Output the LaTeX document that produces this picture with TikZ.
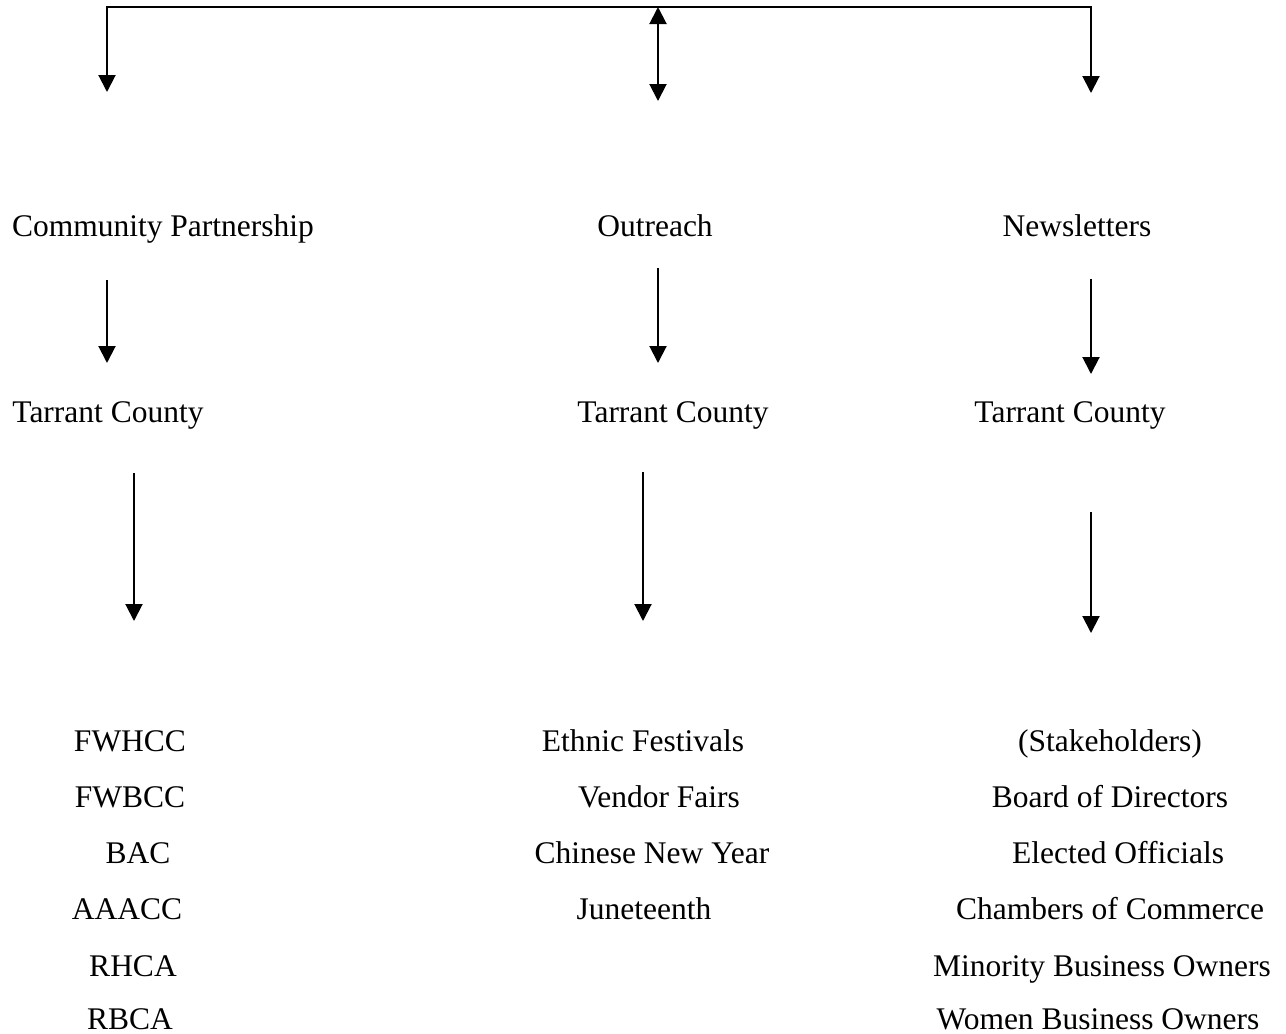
\documentclass[tikz,border=0pt]{standalone}
\usepackage{fontspec}
\setmainfont{Liberation Serif}
\usetikzlibrary{arrows.meta}

\begin{document}
\begin{tikzpicture}[x=1pt,y=-1pt,line width=2pt]
        \tikzstyle{every node}=[inner sep=0pt, anchor=base, font=\fontsize{31.5}{38}\selectfont]
        \tikzstyle{arr}=[-{Triangle[length=17pt,width=17pt]}]
        \useasboundingbox (0,0) rectangle (1286,1034);
        % top bar
        \coordinate (tl) at (107,7); \coordinate (tm) at (658,7); \coordinate (tr) at (1091,7);
        \coordinate (al) at (107,92); \coordinate (am) at (658,101); \coordinate (ar) at (1091,93);
        \draw[arr] (tm) -| (al);
        \draw[arr] (tm) -| (ar);
        \draw[{Triangle[length=17pt,width=17pt]}-{Triangle[length=17pt,width=17pt]}] (tm) -- (am);
        % headings
        \node (cp) at (163,236) {Community Partnership};
        \node (out) at (655,236) {Outreach};
        \node (news) at (1077,236) {Newsletters};
        \coordinate (cp1) at (107,280); \coordinate (cp2) at (107,363);
        \coordinate (out1) at (658,268); \coordinate (out2) at (658,363);
        \coordinate (news1) at (1091,279); \coordinate (news2) at (1091,374);
        \draw[arr] (cp1) -- (cp2);
        \draw[arr] (out1) -- (out2);
        \draw[arr] (news1) -- (news2);
        \node (tc1) at (108,422) {Tarrant County};
        \node (tc2) at (673,422) {Tarrant County};
        \node (tc3) at (1070,422) {Tarrant County};
        \coordinate (tc1a) at (134,473); \coordinate (tc1b) at (134,621);
        \coordinate (tc2a) at (643,472); \coordinate (tc2b) at (643,621);
        \coordinate (tc3a) at (1091,512); \coordinate (tc3b) at (1091,633);
        \draw[arr] (tc1a) -- (tc1b);
        \draw[arr] (tc2a) -- (tc2b);
        \draw[arr] (tc3a) -- (tc3b);
        % lists
        \node (l1) at (130,751) {FWHCC};
        \node (l2) at (130,807) {FWBCC};
        \node (l3) at (138,863) {BAC};
        \node (l4) at (127,919) {AAACC};
        \node (l5) at (133,976) {RHCA};
        \node (l6) at (130,1029) {RBCA};
        \node (m1) at (643,751) {Ethnic Festivals};
        \node (m2) at (659,807) {Vendor Fairs};
        \node (m3) at (652,863) {Chinese New Year};
        \node (m4) at (644,919) {Juneteenth};
        \node (r1) at (1110,751) {(Stakeholders)};
        \node (r2) at (1110,807) {Board of Directors};
        \node (r3) at (1118,863) {Elected Officials};
        \node (r4) at (1110,919) {Chambers of Commerce};
        \node (r5) at (1102,976) {Minority Business Owners};
        \node (r6) at (1098,1029) {Women Business Owners};
\end{tikzpicture}
\end{document}
